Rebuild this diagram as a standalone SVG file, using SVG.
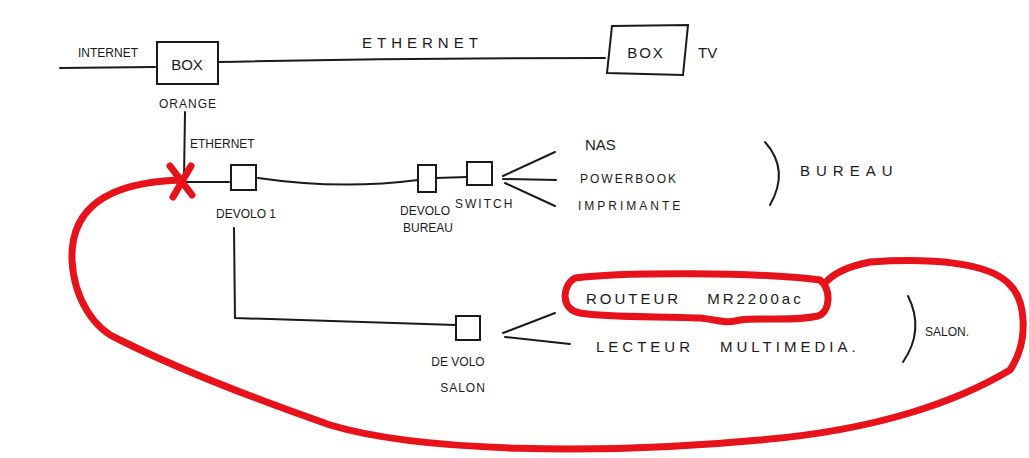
<svg xmlns="http://www.w3.org/2000/svg" width="1029" height="458" viewBox="0 0 1029 458">
<style>
.ln{fill:none;stroke:#1a1a1a;stroke-width:2;stroke-linecap:round;stroke-linejoin:round}
.bx{fill:none;stroke:#1a1a1a;stroke-width:2}
.t{font-family:"Liberation Sans",Arial,sans-serif;fill:#1a1a1a;font-size:15px}
.s{font-size:12px}
.red{fill:none;stroke:#e8121a;stroke-width:7;stroke-linecap:round;stroke-linejoin:round}
</style>
<rect width="1029" height="458" fill="#fff"/>
<g id="connectors">
<path class="ln" d="M60 68 L155 67"/>
<path class="ln" d="M218 62 Q400 58 605 58"/>
<path class="ln" d="M185 112 L184 178"/>
<path class="ln" d="M180 182 L229 182"/>
<path class="ln" d="M258 178 Q340 190 418 180"/>
<path class="ln" d="M436 178 L467 177"/>
<path class="ln" d="M503 176 L555 152"/>
<path class="ln" d="M503 179 L556 180"/>
<path class="ln" d="M505 183 L555 206"/>
<path class="ln" d="M234 228 L235 318 L456 325"/>
<path class="ln" d="M503 333 L555 313"/>
<path class="ln" d="M505 337 L570 344"/>
<path class="ln" d="M765 142 Q790 170 770 205"/>
<path class="ln" d="M908 296 Q925 330 903 362"/>
</g>
<g id="internet"><text class="t s" x="78" y="57">INTERNET</text></g>
<g id="box-orange">
<rect class="bx" x="157" y="42" width="61" height="42"/>
<text class="t" x="187" y="70" text-anchor="middle">BOX</text>
<text class="t s" x="188" y="108" text-anchor="middle" letter-spacing="1">ORANGE</text>
</g>
<g id="ethernet-top"><text class="t" x="362" y="48" letter-spacing="5">ETHERNET</text></g>
<g id="box-tv">
<path class="bx" d="M612 26 L688 25 L683 75 L607 73 Z"/>
<text class="t" x="646" y="58" text-anchor="middle" letter-spacing="2">BOX</text>
<text class="t" x="698" y="58">TV</text>
</g>
<g id="ethernet-v"><text class="t s" x="190" y="148">ETHERNET</text></g>
<g id="devolo1">
<rect class="bx" x="231" y="165" width="25" height="25"/>
<text class="t s" x="216" y="218">DEVOLO 1</text>
</g>
<g id="devolo-bureau">
<rect class="bx" x="418" y="165" width="18" height="27"/>
<text class="t s" x="425" y="215" text-anchor="middle">DEVOLO</text>
<text class="t s" x="428" y="232" text-anchor="middle">BUREAU</text>
</g>
<g id="switch">
<rect class="bx" x="467" y="162" width="25" height="23"/>
<text class="t s" x="455" y="208" letter-spacing="2">SWITCH</text>
</g>
<g id="nas"><text class="t" x="585" y="150">NAS</text></g>
<g id="powerbook"><text class="t s" x="580" y="183" letter-spacing="2">POWERBOOK</text></g>
<g id="imprimante"><text class="t s" x="578" y="210" letter-spacing="3">IMPRIMANTE</text></g>
<g id="bureau"><text class="t" x="800" y="176" letter-spacing="6">BUREAU</text></g>
<g id="devolo-salon">
<rect class="bx" x="456" y="316" width="24" height="24"/>
<text class="t s" x="458" y="366" text-anchor="middle">DE VOLO</text>
<text class="t s" x="463" y="392" text-anchor="middle" letter-spacing="1">SALON</text>
</g>
<g id="routeur"><text class="t" x="586" y="304" letter-spacing="3">ROUTEUR<tspan dx="26">MR2200ac</tspan></text></g>
<g id="lecteur"><text class="t" x="596" y="352" letter-spacing="4">LECTEUR<tspan dx="26">MULTIMEDIA.</tspan></text></g>
<g id="salon"><text class="t s" x="925" y="336">SALON.</text></g>
<g id="red-marks">
<path class="red" d="M170 166 L192 195 M191 166 L173 197"/>
<path class="red" d="M180 180 C120 182 70 200 72 260 C74 300 95 330 120 340 C170 365 230 390 330 425 C420 452 600 455 760 440 C880 430 960 400 1010 370 C1030 340 1025 300 1010 285 C990 262 930 258 870 262 C850 266 835 272 826 282"/>
<path class="red" d="M575 278 C620 272 760 272 820 280 C832 290 830 312 818 316 C790 322 760 317 740 320 C725 324 720 320 700 318 C660 316 610 318 580 313 C560 310 562 285 575 278 Z"/>
</g>
</svg>
